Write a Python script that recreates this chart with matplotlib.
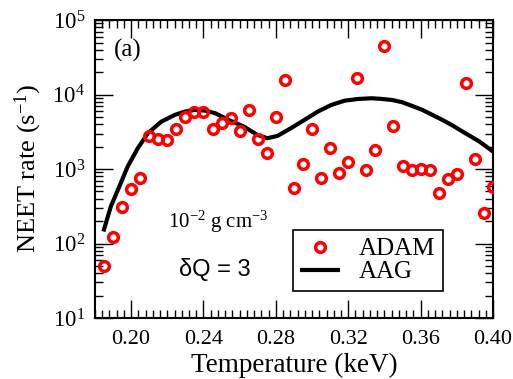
import matplotlib
matplotlib.use("Agg")
import matplotlib.pyplot as plt
import numpy as np
from matplotlib.ticker import MultipleLocator, LogLocator, NullFormatter, LogFormatterMathtext, FormatStrFormatter

plt.rcParams['font.family'] = ['Liberation Serif', 'DejaVu Serif']
plt.rcParams['mathtext.fontset'] = 'custom'
plt.rcParams['mathtext.rm'] = 'Liberation Serif'
plt.rcParams['mathtext.it'] = 'Liberation Serif:italic'
plt.rcParams['mathtext.bf'] = 'Liberation Serif:bold'

# ADAM data (temperature keV, rate s^-1)
adam_T = [0.185, 0.190, 0.195, 0.200, 0.205, 0.210, 0.215, 0.220, 0.225, 0.230,
          0.235, 0.240, 0.245, 0.250, 0.255, 0.260, 0.265, 0.270, 0.275, 0.280,
          0.285, 0.290, 0.295, 0.300, 0.305, 0.310, 0.315, 0.320, 0.325, 0.330,
          0.335, 0.340, 0.345, 0.350, 0.355, 0.360, 0.365, 0.370, 0.375, 0.380,
          0.385, 0.390, 0.395, 0.400]
adam_rate = [50, 124, 308, 543, 762, 2786, 2541, 2440, 3427, 4963,
             5794, 5794, 3490, 4124, 4900, 3251, 6220, 2518, 1633, 4963,
             15850, 555, 1175, 3427, 769, 1923, 881, 1262, 16530, 976,
             1808, 45200, 3796, 1114, 967, 1007, 976, 484, 740, 871,
             14440, 1357, 254, 569]

# AAG curve
aag_T = [0.1847, 0.1888, 0.1935, 0.1981, 0.2037, 0.2093, 0.2167, 0.2242, 0.2297,
         0.2353, 0.2409, 0.2465, 0.2539, 0.2623, 0.2698, 0.2753, 0.2809, 0.2883,
         0.2958, 0.3032, 0.3107, 0.3181, 0.3256, 0.3330, 0.3386, 0.3441, 0.3498,
         0.3553, 0.3609, 0.3665, 0.3720, 0.3776, 0.3832, 0.3925, 0.4000]
aag_rate = [145, 314, 582, 1080, 1905, 3027, 4333, 5333, 5907,
            6224, 6085, 5613, 4567, 3717, 2873, 2593, 2786, 3532,
            4567, 5907, 7263, 8285, 8730, 8920, 8730, 8470, 7890,
            7034, 6224, 5330, 4567, 3853, 3184, 2339, 1718]

fig = plt.figure(figsize=(5.13, 3.79), dpi=100)
ax = fig.add_axes([0.185, 0.161, 0.776, 0.786])

ax.plot(adam_T, adam_rate, linestyle='none', marker='o', markersize=7.0,
        markerfacecolor='none', markeredgecolor='#ff0000', markeredgewidth=2.5,
        label='ADAM', zorder=3)
ax.plot(aag_T, aag_rate, color='black', linewidth=3.0, label='AAG', zorder=2,
        solid_capstyle='butt', solid_joinstyle='round')

ax.set_yscale('log')
ax.set_xlim(0.18, 0.40)
ax.set_ylim(10, 1e5)

ax.xaxis.set_major_locator(MultipleLocator(0.04))
ax.xaxis.set_minor_locator(MultipleLocator(0.004))
ax.xaxis.set_major_formatter(FormatStrFormatter('%.2f'))
ax.yaxis.set_major_locator(LogLocator(base=10, numticks=10))
ax.yaxis.set_minor_locator(LogLocator(base=10, subs=np.arange(2, 10), numticks=20))
ax.yaxis.set_minor_formatter(NullFormatter())
ax.yaxis.set_major_formatter(LogFormatterMathtext())

ax.tick_params(which='both', direction='in', top=True, right=True, width=1.0, color='black')
ax.tick_params(which='major', length=13)
ax.tick_params(which='minor', length=6)
ax.tick_params(axis='y', which='major', labelsize=16.5, pad=7)
ax.tick_params(axis='x', which='major', labelsize=16, pad=9)
for s in ax.spines.values():
    s.set_linewidth(1.5)

ax.set_xlabel('Temperature (keV)', fontsize=19.5)
ax.xaxis.set_label_coords(0.5, -0.118)
ax.set_ylabel('NEET rate (s$^{-1}$)', fontsize=19)
ax.yaxis.set_label_coords(-0.128, 0.503)

ax.text(0.048, 0.899, '(a)', transform=ax.transAxes, fontsize=18, va='center')
ax.text(0.309, 0.322, '10$^{-2}$ g cm$^{-3}$', transform=ax.transAxes, fontsize=15,
        ha='center', va='center')
ax.text(0.3015, 0.164, 'δQ = 3', transform=ax.transAxes, fontsize=17,
        ha='center', va='center', family=['Liberation Sans', 'DejaVu Sans'])

leg = ax.legend(loc='lower left', bbox_to_anchor=(0.497, 0.0906), fontsize=18,
                frameon=True, fancybox=False, edgecolor='black', framealpha=1,
                handlelength=1.6, borderpad=0.3, labelspacing=0.02,
                handletextpad=0.75, borderaxespad=0)
leg.get_frame().set_linewidth(1.2)

fig.savefig('out.png', dpi=100)
